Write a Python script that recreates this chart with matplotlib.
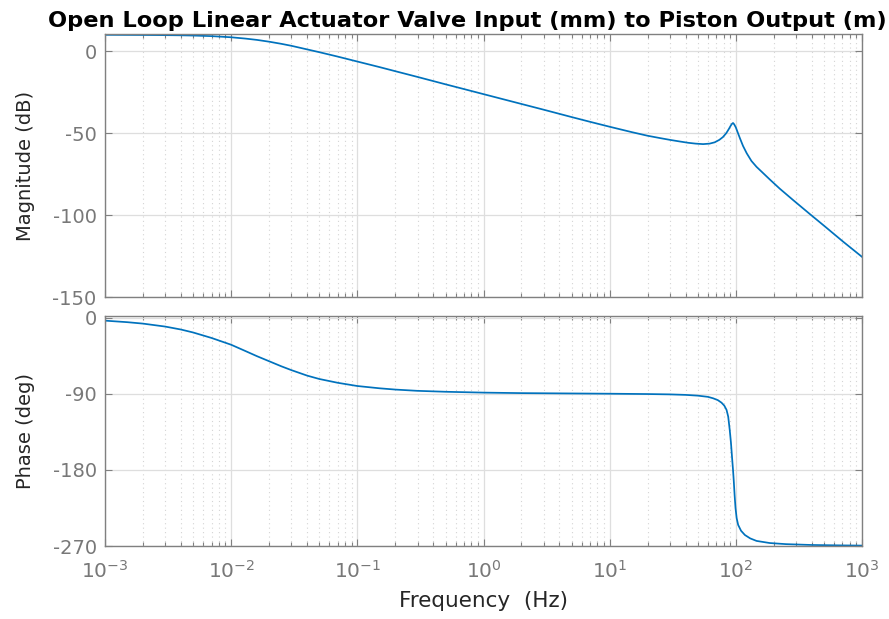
import matplotlib
matplotlib.use('Agg')
import matplotlib.pyplot as plt
from matplotlib.ticker import LogLocator, FixedLocator, NullFormatter

plt.rcParams['font.family'] = ['DejaVu Sans']
plt.rcParams['axes.unicode_minus'] = False
plt.rcParams['mathtext.default'] = 'regular'

title_text = "Open Loop Linear Actuator Valve Input (mm) to Piston Output (m)"

# Magnitude curve (Hz, dB)
mag_freq = [0.001, 0.002, 0.003, 0.004, 0.005, 0.007, 0.01, 0.013, 0.016, 0.02,
            0.025, 0.03, 0.04, 0.05, 0.07, 0.1, 0.15, 0.2, 0.3, 0.5, 0.7, 1, 2,
            3, 5, 7, 10, 15, 20, 25, 30, 36, 42, 48, 55, 62, 68, 74, 79, 84, 88,
            91, 93, 95, 97, 100, 104, 108, 114, 122, 133, 146, 160, 186, 223,
            284, 385, 500, 708, 1000]
mag_db = [10.0, 9.9, 9.8, 9.7, 9.55, 9.2, 8.5, 7.7, 6.9, 5.8,
          4.5, 3.3, 1.1, -0.6, -3.3, -6.3, -9.7, -12.2, -15.7, -20.2, -23.1,
          -26.2, -32.2,
          -35.7, -40.2, -43.1, -46.1, -49.4, -51.6, -53.0, -54.1, -55.1, -55.9,
          -56.4, -56.7, -56.4, -55.6, -54.1, -52.4, -50.0, -47.5,
          -45.5, -44.4, -43.8, -44.6, -46.5, -50.0, -53.3, -57.8, -62.3, -67.0,
          -70.6, -73.5, -78.3, -83.9,
          -90.8, -99.3, -106.5, -116.2, -125.5]

# Phase curve (Hz, deg)
ph_freq = [0.001, 0.0015, 0.002, 0.003, 0.004, 0.005, 0.007, 0.01, 0.013,
           0.016, 0.02, 0.025, 0.03, 0.04, 0.05, 0.07, 0.1, 0.15, 0.2, 0.3, 0.5,
           1, 2, 5, 10, 20, 30, 40, 50, 60, 66, 72, 77, 81, 84.4, 87, 89.5,
           91.5, 93.3, 95, 96.3, 97.8, 99.4, 101.5, 104.3, 110, 118, 130, 146,
           186, 250, 400, 700, 1000]
ph_deg = [-3.5, -5.3, -7.0, -10.5, -14.0, -17.5, -24.0, -32.0, -39.5,
          -45.5, -51.5, -57.5, -62.0, -68.5, -72.5, -77.0, -80.8, -83.5, -85.0,
          -86.5, -87.6,
          -88.6, -89.2, -89.6, -89.9, -90.3, -90.7, -91.3, -92.2, -93.6, -95.3,
          -97.5, -100.5, -104.0, -109.0, -117.0, -133.0,
          -148.0, -165.0, -180.0, -193.0, -210.0, -225.0, -237.0, -245.0,
          -252.0, -257.0, -261.0, -264.0,
          -266.5, -267.8, -268.8, -269.3, -269.5]

freq_ticks = [1e-3, 1e-2, 1e-1, 1e0, 1e1, 1e2, 1e3]
mag_ticks = [0, -50, -100, -150]
ph_ticks = [0, -90, -180, -270]

W, H = 889, 619
fig = plt.figure(figsize=(W / 100, H / 100), dpi=100)
ax1 = fig.add_axes([105 / W, 1 - 297 / H, 757 / W, 263 / H])
ax2 = fig.add_axes([105 / W, 1 - 546 / H, 757 / W, 230 / H])

line_color = '#0072BD'
ax1.plot(mag_freq, mag_db, color=line_color, lw=1.25)
ax2.plot(ph_freq, ph_deg, color=line_color, lw=1.25)

for ax in (ax1, ax2):
    ax.set_xscale('log')
    ax.set_xlim(freq_ticks[0], freq_ticks[-1])
    ax.xaxis.set_major_locator(FixedLocator(freq_ticks))
    ax.xaxis.set_minor_locator(LogLocator(base=10, subs=range(2, 10), numticks=200))
    ax.xaxis.set_minor_formatter(NullFormatter())
    ax.set_axisbelow(True)
    ax.grid(True, which='major', color='#dedede', lw=0.9, ls='-')
    ax.grid(True, which='minor', axis='x', color='#d4d4d4', lw=0.8, ls=(0, (1, 3)))
    ax.tick_params(which='both', direction='in', top=True, right=True,
                   colors='#808080', labelcolor='#787878', labelsize=14, width=0.8)
    ax.tick_params(which='major', length=5, pad=6)
    ax.tick_params(which='minor', length=3)
    for s in ax.spines.values():
        s.set_color('#808080')
        s.set_linewidth(1.0)

ax1.set_ylim(-150, 10.5)
ax1.yaxis.set_major_locator(FixedLocator(mag_ticks))
ax1.tick_params(labelbottom=False)
ax2.set_ylim(-270, 2)
ax2.yaxis.set_major_locator(FixedLocator(ph_ticks))
ax2.tick_params(axis='x', pad=10, labelsize=14.5)

ax1.set_ylabel('Magnitude (dB)', fontsize=14, color='#262626')
ax2.set_ylabel('Phase (deg)', fontsize=14, color='#262626')
ax1.yaxis.set_label_coords(-0.093, 0.5)
ax2.yaxis.set_label_coords(-0.093, 0.5)
ax2.set_xlabel('Frequency  (Hz)', fontsize=15.5, color='#262626')
ax2.xaxis.set_label_coords(0.5, -0.195)

ax1.set_title(title_text, fontsize=16.2, fontweight='bold', color='black', pad=5)
ax1.title.set_x((467 - 105) / 757)

fig.savefig('out.png', dpi=100)
